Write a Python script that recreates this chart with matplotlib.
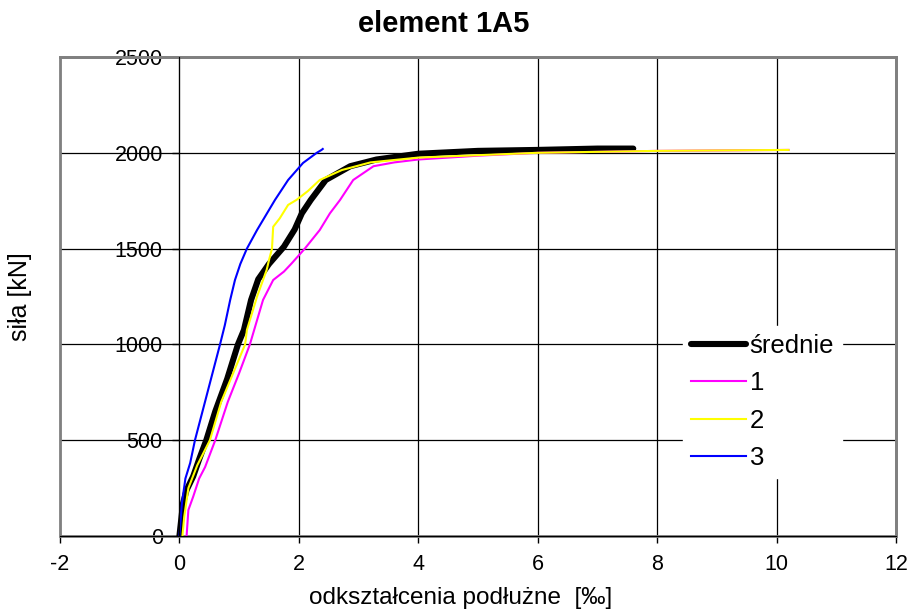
import matplotlib
matplotlib.use('Agg')
import matplotlib.pyplot as plt
from matplotlib.patches import Rectangle

plt.rcParams['font.family'] = ['Liberation Sans', 'DejaVu Sans']
plt.rcParams['axes.unicode_minus'] = False

# odkształcenia [‰] i siła [kN] dla każdej serii
sr_x = [0.0, 0.06, 0.12, 0.23, 0.33, 0.45, 0.6, 0.8, 0.98, 1.08, 1.2, 1.32, 1.5, 1.75, 1.93,
        2.05, 2.2, 2.45, 2.86, 3.3, 4.0, 5.0, 6.0, 7.0, 7.6]
sr_y = [0, 170, 240, 311, 400, 500, 650, 820, 1000, 1075, 1232, 1340, 1420, 1510, 1600,
        1684, 1754, 1858, 1930, 1965, 1995, 2010, 2015, 2022, 2022]

s1_x = [0.12, 0.15, 0.23, 0.33, 0.43, 0.6, 0.81, 1.0, 1.18, 1.4, 1.57, 1.75, 1.88, 2.1, 2.35,
        2.52, 2.69, 2.91, 3.25, 3.6, 4.0, 5.0, 6.0, 8.0, 10.2]
s1_y = [0, 136, 205, 300, 360, 500, 700, 850, 1000, 1232, 1336, 1380, 1423, 1500, 1597,
        1684, 1754, 1858, 1930, 1950, 1965, 1985, 2000, 2010, 2015]

s2_x = [0.05, 0.08, 0.15, 0.3, 0.51, 0.7, 0.9, 1.1, 1.13, 1.3, 1.4, 1.46, 1.5, 1.55, 1.57, 1.68,
        1.82, 1.96, 2.15, 2.35, 2.72, 3.2, 4.0, 6.0, 8.0, 10.2]
s2_y = [0, 100, 250, 370, 500, 700, 850, 1000, 1075, 1250, 1336, 1388, 1440, 1500, 1614, 1658,
        1728, 1754, 1800, 1858, 1910, 1950, 1975, 2000, 2010, 2015]

s3_x = [0.0, 0.04, 0.1, 0.18, 0.26, 0.47, 0.68, 0.76, 0.85, 0.93, 1.02, 1.13, 1.3, 1.6, 1.82,
        2.07, 2.3, 2.38, 2.4]
s3_y = [0, 167, 300, 381, 500, 750, 1000, 1100, 1232, 1336, 1420, 1500, 1597, 1754, 1858,
        1947, 2000, 2015, 2020]

fig = plt.figure(figsize=(9.11, 6.12), dpi=100)
ax = fig.add_axes([60 / 911, 1 - 536 / 612, 836 / 911, 479 / 612])

ax.plot(sr_x, sr_y, color='black', lw=4.4, label='średnie', solid_capstyle='round',
        solid_joinstyle='round')
ax.plot(s1_x, s1_y, color='#FF00FF', lw=1.5, label='1')
ax.plot(s2_x, s2_y, color='#FFFF00', lw=1.5, label='2')
ax.plot(s3_x, s3_y, color='#0000FF', lw=1.5, label='3')

ax.set_xlim(-2, 12)
ax.set_ylim(0, 2500)
ax.set_xticks(range(-2, 13, 2))
ax.set_yticks(range(0, 2501, 500))
ax.grid(True, color='black', lw=0.9)
ax.set_axisbelow(True)

# oś pionowa w punkcie x = 0, szara ramka obszaru wykresu
ax.spines['left'].set_position(('data', 0))
for side in ['left', 'bottom']:
    ax.spines[side].set_color('black')
    ax.spines[side].set_zorder(3)
for side in ['top', 'right']:
    ax.spines[side].set_color('#808080')
    ax.spines[side].set_linewidth(2)
ax.add_patch(Rectangle((0, 0), 1, 1, transform=ax.transAxes, fill=False,
                       edgecolor='#808080', lw=2, clip_on=False, zorder=1))

ax.tick_params(axis='both', direction='out', length=5, width=1, labelsize=15.5, color='black')
ax.tick_params(axis='x', pad=8)
ax.tick_params(axis='y', pad=7)

leg = ax.legend(loc='upper left', bbox_to_anchor=(0.745, 0.438), fontsize=18.5,
                frameon=True, fancybox=False, edgecolor='white', framealpha=1,
                borderaxespad=0, handlelength=2.15, handletextpad=0.15,
                labelspacing=0.52, borderpad=0.3)

fig.text(444 / 911, 1 - 24 / 612, 'element 1A5', ha='center', va='center',
         fontsize=21, fontweight='bold')
fig.text(461 / 911, 1 - 598 / 612, 'odkształcenia podłużne  [‰]', ha='center', va='center',
         fontsize=17.5)
fig.text(20 / 911, 1 - 297 / 612, 'siła [kN]', ha='center', va='center', rotation=90,
         fontsize=18)

fig.savefig('out.png', dpi=100)
